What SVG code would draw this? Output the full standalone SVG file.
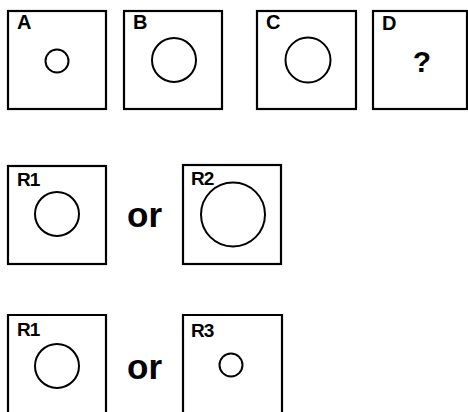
<svg xmlns="http://www.w3.org/2000/svg" width="468" height="412" viewBox="0 0 468 412">
<style>
.box{fill:#fff;stroke:#000;stroke-width:2.2}
.c{fill:none;stroke:#000;stroke-width:2}
.lbl{font-family:"Liberation Sans",Arial,sans-serif;font-weight:bold;font-size:20px;fill:#000}
.rl{font-family:"Liberation Sans",Arial,sans-serif;font-weight:bold;font-size:19px;letter-spacing:-1px;fill:#000}
.or{font-family:"Liberation Sans",Arial,sans-serif;font-weight:bold;font-size:35px;fill:#000}
</style>
<rect width="468" height="412" fill="#fff"/>
<g id="A"><rect class="box" x="8" y="11" width="98" height="98"/><text class="lbl" x="17" y="29">A</text><circle class="c" cx="57" cy="61" r="11.5"/></g>
<g id="B"><rect class="box" x="124" y="11" width="98" height="98"/><text class="lbl" x="133" y="29">B</text><circle class="c" cx="174" cy="60" r="22"/></g>
<g id="C"><rect class="box" x="257" y="11" width="99" height="98"/><text class="lbl" x="266" y="29">C</text><circle class="c" cx="308" cy="60" r="22.5"/></g>
<g id="D"><rect class="box" x="373" y="11" width="94" height="98"/><text class="lbl" x="382" y="30">D</text><text class="lbl" x="422" y="72" text-anchor="middle" style="font-size:30px">?</text></g>
<g id="R1a"><rect class="box" x="8" y="166" width="98" height="98"/><text class="rl" x="17" y="186">R1</text><circle class="c" cx="57" cy="214" r="22"/></g>
<g id="or1"><text class="or" x="127" y="227">or</text></g>
<g id="R2"><rect class="box" x="183" y="165" width="98" height="99"/><text class="rl" x="191" y="185">R2</text><circle class="c" cx="233" cy="214.5" r="32"/></g>
<g id="R1b"><path class="box" d="M8,414 V315 H106 V414"/><text class="rl" x="17" y="336">R1</text><circle class="c" cx="57" cy="366" r="22"/></g>
<g id="or2"><text class="or" x="127" y="379">or</text></g>
<g id="R3"><path class="box" d="M183,414 V315 H282 V414"/><text class="rl" x="191" y="337">R3</text><circle class="c" cx="231" cy="365" r="11.5"/></g>
<g id="connectors"/>
</svg>
